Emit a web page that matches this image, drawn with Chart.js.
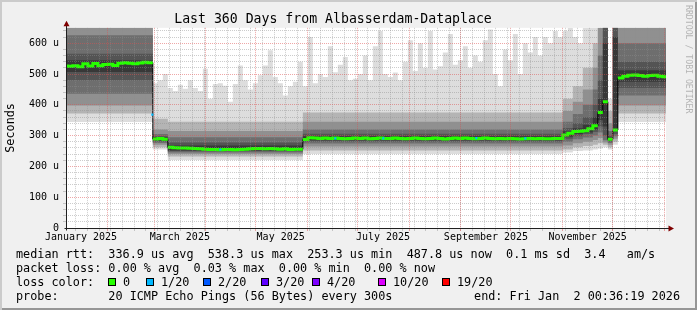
<!DOCTYPE html>
<html>
<head>
<meta charset="utf-8">
<script src="https://cdn.jsdelivr.net/npm/chart.js@4.4.1/dist/chart.umd.min.js"></script>
<style>
  body { margin: 0; background: #f0f0f0; }
  #graph {
    position: relative; width: 697px; height: 310px; overflow: hidden;
    background: #f0f0f0;
    box-shadow: inset 2px 2px 0 #cbcbcb, inset -2px -2px 0 #969696;
    font-family: 'DejaVu Sans Mono', monospace; color: #000;
  }
  #graph canvas { position: absolute; left: 0; top: 0; }
  .legend-line { position: absolute; left: 16px; font-size: 11.8px; line-height: 14px; white-space: pre; }
  .legend-end { position: absolute; right: 17px; font-size: 11.8px; line-height: 14px; white-space: pre; }
  .loss-box { position: absolute; top: 278px; width: 8px; height: 8px; box-sizing: border-box; border: 1px solid #000; }
  .loss-label { position: absolute; top: 275px; font-size: 11.8px; line-height: 14px; white-space: pre; }
  .watermark { position: absolute; left: 684px; top: 5px; writing-mode: vertical-rl; font-size: 8.2px; line-height: 9px; color: #b4b4b4; white-space: pre; }
</style>
</head>
<body>
<div id="graph">
  <canvas id="chart" width="697" height="310"></canvas>
  <div class="watermark">RRDTOOL / TOBI OETIKER</div>
  <div class="legend-line" style="top:247px">median rtt:  336.9 us avg  538.3 us max  253.3 us min  487.8 us now  0.1 ms sd  3.4   am/s</div>
  <div class="legend-line" style="top:261px">packet loss: 0.00 % avg  0.03 % max  0.00 % min  0.00 % now</div>
  <div class="legend-line" style="top:275px">loss color:</div>
  <div id="loss-keys"></div>
  <div class="legend-line" style="top:289px">probe:       20 ICMP Echo Pings (56 Bytes) every 300s</div>
  <div class="legend-end" style="top:289px">end: Fri Jan  2 00:36:19 2026</div>
</div>
<script>
// x is in days since the start of the window (Jan 7 2025 00:36), y in microseconds

// 3-day columns: column i starts at colStart + i*colStep
const colStart = -1.9, colStep = 3;

const medianRtt = [
  526, 525, 527, 524, 533, 526, 534, 527, 531, 532, 528, 535, 537, 535, 533, 536, 538, 537,
  289, 291, 288,
  262, 261, 260, 260, 259, 258, 257, 256, 255, 255, 254, 255, 255, 254, 255, 256, 257, 258,
  258, 257, 258, 257, 256, 257, 255, 256, 256,
  287, 293, 292, 291, 292, 291, 292, 291, 290, 291, 292, 291, 292, 290, 291, 292, 291, 291,
  292, 291, 290, 291, 292, 291, 290, 291, 292, 291, 289, 291, 292, 291, 292, 291, 290, 291,
  292, 291, 290, 291, 290, 291, 290, 289, 290, 291, 290, 291, 290, 290, 291, 291,
  302, 308, 313, 314, 316, 322, 332, 375,
  410, 288, 318,
  487, 493, 496, 497, 495, 493, 495, 496, 493, 491
];

// highest ping of each column (values above 650 run off the top)
const peakRtt = [
  700, 700, 700, 700, 700, 700, 700, 700, 700, 700, 700, 700, 700, 700, 700, 700, 700, 700,
  470, 480, 500, 455, 445, 465, 452, 480, 455, 445,
  517, 420, 468, 470, 462, 410, 468, 528, 480, 450,
  470, 496, 528, 577, 490, 470, 430, 460, 475, 540,
  460, 620, 470, 500, 490, 590, 506, 530, 555, 480,
  485, 500, 560, 480, 590, 640, 500, 490, 505, 480,
  540, 610, 510, 600, 520, 640, 515, 525, 570, 630,
  530, 545, 590, 520, 560, 540, 610, 645, 500, 460,
  580, 545, 630, 500, 600, 570, 620, 560, 620, 600,
  640, 620,
  640, 700, 620, 600, 700, 700, 700, 700,
  700, 420, 700,
  700, 700, 700, 700, 700, 700, 700, 700, 700, 700
];

// smoke bands, stepped at these days
const bandDays = [-1.9, 52.1, 61.1, 142.1, 298.1, 304.1, 310.1, 316.1, 319.1, 322.1, 325.1, 328.1, 331.1, 361.1];
const floorRtt = [344, 255, 221, 240, 245, 250, 252, 255, 258, 262, 255, 270, 344, 344];
const band2Lo  = [372, 262, 232, 252, 255, 262, 266, 270, 275, 270, 262, 280, 372, 372];
const band2Hi  = [700, 355, 345, 375, 420, 460, 520, 600, 700, 700, 380, 700, 700, 700];
const band3Lo  = [398, 270, 240, 265, 268, 275, 280, 286, 292, 278, 270, 290, 398, 398];
const band3Hi  = [700, 320, 315, 345, 380, 410, 450, 520, 650, 700, 340, 700, 700, 700];
const band4Lo  = [436, 276, 245, 274, 280, 288, 294, 300, 310, 285, 276, 298, 430, 430];
const band4Hi  = [626, 305, 295, 320, 345, 370, 400, 450, 560, 700, 315, 700, 600, 600];
const band5Lo  = [480, 281, 249, 281, 290, 298, 305, 312, 330, 300, 281, 305, 455, 455];
const band5Hi  = [566, 298, 278, 306, 325, 340, 360, 400, 480, 700, 300, 700, 540, 540];
const band6Lo  = [507, 284, 252, 285, 296, 305, 310, 320, 350, 330, 284, 315, 475, 475];
const band6Hi  = [545, 295, 268, 298, 314, 324, 335, 360, 420, 600, 294, 620, 512, 512];

// single pings lost (1/20) on the median
const lossDays = [51.8, 92.6, 161.6, 190.4, 246.2, 275.6];
const lossRtt  = [368, 255, 291, 291, 292, 291];

// axes
const labelDays  = [9, 68.3, 128.8, 190.2, 252, 313];
const labelNames = ['January 2025', 'March 2025', 'May 2025', 'July 2025', 'September 2025', 'November 2025'];
const monthDays  = [24.975, 52.975, 83.975, 113.975, 144.975, 174.975, 205.975, 236.975, 266.975, 297.975, 327.975, 358.975];
const firstMonday = 5.975, weekCount = 51;
const rttTicks = [0, 100, 200, 300, 400, 500, 600];
const rttMinorStep = 20;

// legend
const lossLabels = ['0', '1/20', '2/20', '3/20', '4/20', '10/20', '19/20'];
const lossColors = ['#26ff00', '#00b8ff', '#0059ff', '#5e00ff', '#7e00ff', '#dd00ff', '#ff0000'];
const lossKeyX = [108, 146, 203, 261, 312, 378, 442];

const family = 'DejaVu Sans Mono';
const majorColor = 'rgba(222,79,79,0.5)';
const minorColor = 'rgba(143,143,143,0.45)';

const keys = document.getElementById('loss-keys');
lossLabels.forEach((label, i) => {
  const box = document.createElement('span');
  box.className = 'loss-box';
  box.style.left = lossKeyX[i] + 'px';
  box.style.background = lossColors[i];
  const txt = document.createElement('span');
  txt.className = 'loss-label';
  txt.style.left = (lossKeyX[i] + 15) + 'px';
  txt.textContent = label;
  keys.append(box, txt);
});

const colDays = medianRtt.map((_, i) => colStart + i * colStep);
const colEnd = colStart + medianRtt.length * colStep;

function steps(days, values, end) {
  const pts = days.map((d, i) => ({ x: d, y: values[i] }));
  if (end !== undefined) pts.push({ x: end, y: values[values.length - 1] });
  return pts;
}

// green median, broken at big jumps so the black edge shows there
const greenPts = [];
medianRtt.forEach((v, i) => {
  greenPts.push({ x: colDays[i], y: v });
  const next = medianRtt[i + 1];
  if (next === undefined) {
    greenPts.push({ x: colEnd, y: v });
  } else if (Math.abs(next - v) > 25) {
    greenPts.push({ x: colDays[i + 1], y: v });
    greenPts.push({ x: colDays[i + 1], y: null });
  }
});

const datasets = [
  {
    label: 'loss 1/20',
    data: lossDays.map((d, i) => ({ x: d, y: lossRtt[i] })),
    showLine: false, pointStyle: 'rect', pointRadius: 1.5,
    pointBackgroundColor: '#00b8ff', pointBorderWidth: 0
  },
  { label: 'median', data: greenPts, borderColor: '#26ff00', borderWidth: 3, stepped: true, fill: false },
  { label: 'median edge', data: steps(colDays, medianRtt, colEnd), borderColor: '#000', borderWidth: 1, stepped: true, fill: false }
];

// inner (darkest) bands first so they end up on top
const bands = [
  [band6Lo, band6Hi, '#383838'],
  [band5Lo, band5Hi, '#545454'],
  [band4Lo, band4Hi, '#6e6e6e'],
  [band3Lo, band3Hi, '#909090'],
  [band2Lo, band2Hi, '#b4b4b4']
];
bands.forEach(([lo, hi, color]) => {
  datasets.push({ data: steps(bandDays, hi), stepped: true, borderWidth: 0, fill: '+1', backgroundColor: color });
  datasets.push({ data: steps(bandDays, lo), stepped: true, borderWidth: 0, fill: false });
});
datasets.push({ data: steps(bandDays, floorRtt), stepped: true, borderWidth: 0, fill: 'origin', backgroundColor: '#ffffff' });
datasets.push({ data: steps(colDays, peakRtt, colEnd), stepped: true, borderWidth: 0, fill: 'origin', backgroundColor: '#dddddd' });

const canvasBg = {
  id: 'canvasBg',
  beforeDraw(chart) {
    const { ctx, chartArea: a } = chart;
    ctx.save();
    ctx.fillStyle = '#fff';
    ctx.fillRect(a.left, a.top, a.right - a.left, a.bottom - a.top);
    ctx.restore();
  }
};

const axisArrows = {
  id: 'axisArrows',
  afterDraw(chart) {
    const { ctx, chartArea: a } = chart;
    const x0 = Math.round(a.left) + 0.5, y0 = Math.round(a.bottom) + 0.5;
    ctx.save();
    ctx.strokeStyle = '#202020';
    ctx.lineWidth = 1;
    ctx.beginPath();
    ctx.moveTo(x0, y0 + 2); ctx.lineTo(x0, a.top - 4);
    ctx.moveTo(x0 - 2, y0); ctx.lineTo(a.right + 4, y0);
    ctx.stroke();
    ctx.fillStyle = '#7f0000';
    ctx.beginPath();
    ctx.moveTo(x0, a.top - 7); ctx.lineTo(x0 - 3, a.top - 1.5); ctx.lineTo(x0 + 3, a.top - 1.5);
    ctx.closePath(); ctx.fill();
    ctx.beginPath();
    ctx.moveTo(a.right + 8, y0); ctx.lineTo(a.right + 2.5, y0 - 3); ctx.lineTo(a.right + 2.5, y0 + 3);
    ctx.closePath(); ctx.fill();
    ctx.restore();
  }
};

const gridAxis = (position, ticks, color, extra) => Object.assign({
  type: 'linear', position, weight: 0,
  afterBuildTicks: s => { s.ticks = ticks.map(v => ({ value: v })); },
  ticks: { display: false, autoSkip: false },
  grid: { color, z: 1, drawTicks: true, tickLength: 3, tickColor: color },
  border: { display: false, dash: [1, 1] }
}, extra);

const weekDays = Array.from({ length: weekCount }, (_, i) => firstMonday + 7 * i);
const rttMinor = [];
for (let v = rttMinorStep; v < 650; v += rttMinorStep) if (v % 100) rttMinor.push(v);

new Chart(document.getElementById('chart'), {
  type: 'line',
  data: { datasets },
  plugins: [canvasBg, axisArrows],
  options: {
    responsive: false,
    animation: false,
    devicePixelRatio: 1,
    events: [],
    layout: { padding: { left: 0, right: 31, top: 0, bottom: 0 } },
    elements: { point: { radius: 0 }, line: { tension: 0 } },
    plugins: {
      legend: { display: false },
      tooltip: { enabled: false },
      title: {
        display: true,
        text: 'Last 360 Days from Albasserdam-Dataplace',
        color: '#000',
        font: { family, size: 13.2, weight: 'normal' },
        padding: { top: 12, bottom: 0 }
      }
    },
    scales: {
      x: {
        type: 'linear', min: 0, max: 360, position: 'bottom', weight: 1,
        afterBuildTicks: s => { s.ticks = labelDays.map(v => ({ value: v })); },
        afterFit: s => { s.height = 82; },
        grid: { display: false, drawTicks: false },
        border: { display: false },
        ticks: {
          autoSkip: false, maxRotation: 0, padding: 3, color: '#000',
          font: { family, size: 10 },
          callback: (v, i) => labelNames[i]
        }
      },
      xWeek: gridAxis('bottom', weekDays, minorColor, { min: 0, max: 360, afterFit: s => { s.height = 0; } }),
      xMonth: gridAxis('bottom', monthDays, majorColor, { min: 0, max: 360, afterFit: s => { s.height = 0; } }),
      y: {
        type: 'linear', min: 0, max: 650, position: 'left', weight: 1,
        afterBuildTicks: s => { s.ticks = rttTicks.map(v => ({ value: v })); },
        afterFit: s => { s.width = 66; },
        grid: { color: majorColor, z: 1, drawTicks: false },
        border: { display: false, dash: [1, 1] },
        ticks: {
          padding: 7, color: '#000', font: { family, size: 10 },
          callback: v => (v === 0 ? '0' : v + ' u')
        },
        title: {
          display: true, text: 'Seconds', color: '#000',
          font: { family, size: 11.8 }, padding: { top: 4, bottom: 0 }
        }
      },
      yMinor: gridAxis('left', rttMinor, minorColor, { min: 0, max: 650, afterFit: s => { s.width = 0; } })
    }
  }
});
</script>
</body>
</html>
